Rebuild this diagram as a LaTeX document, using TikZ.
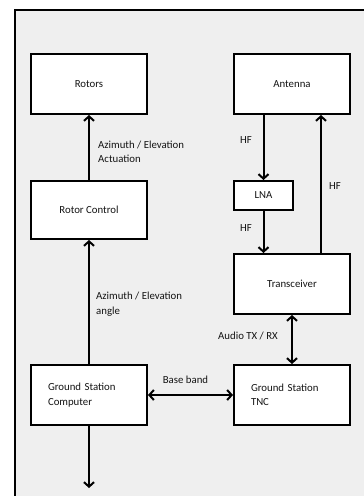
\documentclass[tikz,border=0pt]{standalone}
\usepackage{fontspec}
\setmainfont{Carlito}
\usepackage{xcolor}
\usepackage{tikz}
\usetikzlibrary{arrows.meta}
\usetikzlibrary{backgrounds}
\pgfdeclarelayer{edgelayer}
\pgfdeclarelayer{nodelayer}
\pgfsetlayers{background,edgelayer,nodelayer,main}
\definecolor{panel}{RGB}{239,239,239}
\definecolor{ink}{RGB}{20,20,20}
\tikzstyle{none}=[inner sep=0mm]
\tikzstyle{block}=[draw=black,fill=white,line width=2pt,minimum width=116pt,minimum height=60pt,inner sep=0pt,text=ink]
\tikzstyle{small block}=[block,minimum width=59pt,minimum height=29pt]
\tikzstyle{lbl}=[none,align=left,text=ink]
\tikzstyle{diredge}=[-{Straight Barb[length=4.5pt,width=10pt]},line width=2pt]
\tikzstyle{bidiredge}=[{Straight Barb[length=4.5pt,width=10pt]}-{Straight Barb[length=4.5pt,width=10pt]},line width=2pt]

\begin{document}
\begin{tikzpicture}[x=10pt,y=10pt,font={\fontsize{10.8}{14.5}\selectfont}]
	\useasboundingbox (0,0) rectangle (36.4,-49.6);
	\begin{pgfonlayer}{background}
		\fill [panel] (1.5,-1.0) rectangle (37.5,-50.5);
		\draw [line width=2pt] (1.5,-1.0) rectangle (37.5,-50.5);
	\end{pgfonlayer}
	\begin{pgfonlayer}{nodelayer}
		\node [style=block] (0) at (8.9, -8.4) {Rotors};
		\node [style=block] (1) at (29.2, -8.4) {Antenna};
		\node [style=block, minimum height=58pt] (2) at (8.9, -21.0) {Rotor Control};
		\node [style=small block] (3) at (26.35, -19.55) {LNA};
		\node [style=block] (4) at (29.2, -28.4) {Transceiver};
		\node [style=block, text width=82pt, align=left] (5) at (8.9, -39.5) {Ground Station\\Computer};
		\node [style=block, text width=82pt, align=left] (6) at (29.2, -39.5) {Ground Station\\TNC};
		\coordinate (7) at (8.9, -48.8);
		\node [style=lbl, anchor=west] (8) at (9.8, -15.2) {Azimuth / Elevation\\Actuation};
		\node [style=lbl] (9) at (24.6, -14.0) {HF};
		\node [style=lbl] (10) at (24.6, -22.8) {HF};
		\node [style=lbl] (11) at (33.5, -18.6) {HF};
		\node [style=lbl, anchor=west] (12) at (9.6, -30.4) {Azimuth / Elevation\\angle};
		\node [style=lbl] (13) at (24.8, -33.6) {Audio TX / RX};
		\node [style=lbl] (14) at (18.55, -38.0) {Base band};
	\end{pgfonlayer}
	\begin{pgfonlayer}{edgelayer}
		\draw [style=diredge] (2) to (0);
		\draw [style=diredge] (5) to (2);
		\draw [style=diredge] (5) to (7);
		\draw [style=diredge] (1.south -| 3) to (3);
		\draw [style=diredge] (3) to (3 |- 4.north);
		\draw [style=diredge] ([xshift=29pt]4.north) to ([xshift=29pt]1.south);
		\draw [style=bidiredge] (4) to (6);
		\draw [style=bidiredge] (5) to (6);
	\end{pgfonlayer}
\end{tikzpicture}
\end{document}
